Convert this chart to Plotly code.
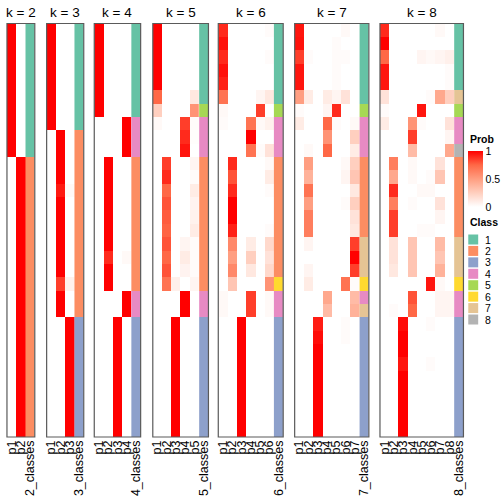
import plotly.graph_objects as go

# ---------------- data ----------------
ks = [2, 3, 4, 5, 6, 7, 8]
n_rows = 31

prob_k2 = [
    [1, 0], [1, 0], [1, 0], [1, 0], [1, 0], [1, 0], [1, 0], [1, 0], [1, 0], [1, 0],
    [0, 1], [0, 1], [0, 1], [0, 1], [0, 1], [0, 1], [0, 1], [0, 1], [0, 1], [0, 1],
    [0, 1], [0, 1], [0, 1], [0, 1], [0, 1], [0, 1], [0, 1], [0, 1], [0, 1], [0, 1], [0, 1],
]
class_k2 = [1, 1, 1, 1, 1, 1, 1, 1, 1, 1,
            2, 2, 2, 2, 2, 2, 2, 2, 2, 2, 2, 2, 2, 2, 2, 2, 2, 2, 2, 2, 2]

prob_k3 = [
    [1, 0, 0], [1, 0, 0], [1, 0, 0], [1, 0, 0], [1, 0, 0], [1, 0, 0], [1, 0, 0], [1, 0, 0],
    [0, 1, 0], [0, 1, 0], [0, 1, 0], [0, 1, 0], [0, 0.94, 0.03], [0, 1, 0], [0, 1, 0],
    [0, 1, 0], [0, 1, 0], [0, 1, 0], [0, 1, 0], [0, 0.85, 0.07], [0, 1, 0], [0, 1, 0],
    [0, 0, 1], [0, 0, 1], [0, 0, 1], [0, 0, 1], [0, 0, 1], [0, 0, 1], [0, 0, 1], [0, 0, 1], [0, 0, 1],
]
class_k3 = [1, 1, 1, 1, 1, 1, 1, 1,
            2, 2, 2, 2, 2, 2, 2, 2, 2, 2, 2, 2, 2, 2,
            3, 3, 3, 3, 3, 3, 3, 3, 3]

prob_k4 = [
    [1, 0, 0, 0], [1, 0, 0, 0], [1, 0, 0, 0], [1, 0, 0, 0], [1, 0, 0, 0], [1, 0, 0, 0], [1, 0, 0, 0],
    [0, 0, 0, 1], [0, 0, 0, 1], [0, 0, 0, 1],
    [0, 1, 0, 0], [0, 1, 0, 0], [0, 1, 0, 0], [0, 1, 0, 0], [0, 1, 0, 0], [0, 1, 0, 0], [0, 1, 0, 0],
    [0, 0.9, 0, 0.03], [0, 1, 0, 0], [0, 1, 0, 0],
    [0, 0, 0, 1], [0, 0, 0, 1],
    [0, 0, 1, 0], [0, 0, 1, 0], [0, 0, 1, 0], [0, 0, 1, 0], [0, 0, 1, 0], [0, 0, 1, 0], [0, 0, 1, 0],
    [0, 0, 1, 0], [0, 0, 1, 0],
]
class_k4 = [1, 1, 1, 1, 1, 1, 1, 4, 4, 4,
            2, 2, 2, 2, 2, 2, 2, 2, 2, 2, 4, 4,
            3, 3, 3, 3, 3, 3, 3, 3, 3]

prob_k5 = [
    [1, 0, 0, 0, 0], [1, 0, 0, 0, 0], [1, 0, 0, 0, 0], [1, 0, 0, 0, 0], [1, 0, 0, 0, 0],
    [0.75, 0, 0, 0, 0.12], [0.25, 0, 0, 0, 0.55], [0.03, 0, 0, 0.85, 0.02],
    [0, 0, 0, 0.9, 0.01], [0, 0, 0, 0.95, 0],
    [0, 0.85, 0, 0, 0.05], [0, 0.9, 0, 0, 0.02], [0, 0.75, 0, 0, 0.1], [0, 0.8, 0, 0, 0.06],
    [0, 0.78, 0, 0, 0.07], [0, 0.76, 0, 0, 0.1], [0, 0.8, 0, 0.05, 0.02], [0, 0.75, 0, 0.1, 0.02],
    [0, 0.8, 0, 0.06, 0.02], [0, 0.7, 0.08, 0, 0.05],
    [0, 0, 0, 1, 0], [0, 0, 0, 1, 0],
    [0, 0, 1, 0, 0], [0, 0, 1, 0, 0], [0, 0, 1, 0, 0], [0, 0, 1, 0, 0], [0, 0, 1, 0, 0],
    [0, 0, 1, 0, 0], [0, 0, 1, 0, 0], [0, 0, 1, 0, 0], [0, 0, 1, 0, 0],
]
class_k5 = [1, 1, 1, 1, 1, 1, 5, 4, 4, 4,
            2, 2, 2, 2, 2, 2, 2, 2, 2, 2, 4, 4,
            3, 3, 3, 3, 3, 3, 3, 3, 3]

prob_k6 = [
    [0.9, 0, 0, 0, 0, 0.02], [0.96, 0, 0, 0, 0, 0], [0.9, 0, 0, 0, 0, 0.02], [0.96, 0, 0, 0, 0, 0],
    [0.92, 0, 0, 0, 0, 0], [0.7, 0, 0, 0, 0.05, 0.12], [0.03, 0, 0, 0, 0.85, 0],
    [0.02, 0, 0, 0.7, 0.03, 0.07], [0, 0, 0, 1, 0, 0], [0, 0, 0, 0.7, 0.02, 0.15],
    [0, 0.9, 0, 0, 0, 0.03], [0, 0.8, 0, 0, 0, 0.1], [0, 0.9, 0, 0, 0, 0.02], [0, 1, 0, 0, 0, 0],
    [0, 1, 0, 0, 0, 0], [0, 0.92, 0, 0, 0, 0.02], [0, 0.6, 0, 0.1, 0, 0.2], [0, 0.5, 0, 0.25, 0, 0.15],
    [0, 0.6, 0, 0.12, 0, 0.2], [0, 0.3, 0, 0, 0, 0.55],
    [0.03, 0, 0, 0.85, 0, 0.03], [0.03, 0, 0, 0.85, 0, 0.03],
    [0, 0, 1, 0, 0, 0], [0, 0, 1, 0, 0, 0], [0, 0, 1, 0, 0, 0], [0, 0, 1, 0, 0, 0], [0, 0, 1, 0, 0, 0],
    [0, 0, 1, 0, 0, 0], [0, 0, 1, 0, 0, 0], [0, 0, 1, 0, 0, 0], [0, 0, 1, 0, 0, 0],
]
class_k6 = [1, 1, 1, 1, 1, 1, 5, 4, 4, 4,
            2, 2, 2, 2, 2, 2, 2, 2, 2, 6, 4, 4,
            3, 3, 3, 3, 3, 3, 3, 3, 3]

prob_k7 = [
    [0.95, 0, 0, 0, 0, 0.03, 0], [0.96, 0, 0, 0, 0.02, 0, 0], [0.85, 0.02, 0, 0, 0.02, 0.02, 0],
    [0.95, 0, 0, 0, 0.02, 0, 0], [0.95, 0, 0, 0, 0.02, 0, 0],
    [0.5, 0.1, 0, 0.1, 0.05, 0.15, 0], [0.02, 0, 0, 0.05, 0.9, 0, 0],
    [0.1, 0, 0, 0.75, 0.02, 0, 0.03], [0, 0, 0, 0.55, 0, 0, 0.25], [0, 0.03, 0, 0.75, 0, 0, 0.1],
    [0, 0.5, 0, 0, 0, 0.03, 0.25], [0, 0.4, 0, 0, 0, 0.05, 0.3], [0, 0.7, 0, 0, 0, 0, 0.12],
    [0, 0.5, 0, 0, 0, 0.02, 0.25], [0, 0.65, 0, 0, 0, 0, 0.15], [0, 0.65, 0, 0, 0, 0, 0.12],
    [0, 0.05, 0, 0, 0, 0, 0.85], [0, 0, 0, 0, 0, 0, 1], [0, 0.05, 0, 0, 0, 0, 0.85],
    [0, 0.1, 0, 0, 0, 0.7, 0.02], [0, 0, 0, 0.45, 0, 0, 0.35], [0, 0, 0, 0.35, 0, 0, 0.4],
    [0, 0, 0.93, 0, 0, 0.02, 0], [0, 0, 0.97, 0, 0, 0.02, 0], [0, 0, 1, 0, 0, 0, 0], [0, 0, 1, 0, 0, 0, 0],
    [0, 0, 1, 0, 0, 0, 0], [0, 0, 1, 0, 0, 0, 0], [0, 0, 1, 0, 0, 0, 0], [0, 0, 1, 0, 0, 0, 0],
    [0, 0, 1, 0, 0, 0, 0],
]
class_k7 = [1, 1, 1, 1, 1, 1, 5, 4, 4, 4,
            2, 2, 2, 2, 2, 2, 7, 7, 7, 6, 4, 7,
            3, 3, 3, 3, 3, 3, 3, 3, 3]

prob_k8 = [
    [0.9, 0, 0, 0, 0, 0, 0.03, 0], [1, 0, 0, 0, 0, 0, 0, 0], [0.75, 0, 0, 0, 0.05, 0.03, 0.05, 0.08],
    [0.95, 0, 0, 0, 0, 0, 0, 0.02], [0.95, 0, 0, 0, 0, 0, 0, 0.02],
    [0.15, 0, 0, 0, 0, 0.02, 0.45, 0.25], [0.02, 0, 0, 0, 0.95, 0, 0, 0],
    [0.1, 0, 0, 0.55, 0.02, 0, 0, 0.15], [0, 0, 0, 0.85, 0, 0, 0, 0.05], [0, 0, 0, 0.35, 0, 0, 0, 0.45],
    [0, 0.65, 0, 0.03, 0, 0, 0.15, 0], [0, 0.45, 0, 0.03, 0, 0.02, 0.3, 0], [0, 0.9, 0, 0, 0.03, 0.03, 0, 0],
    [0, 0.65, 0, 0.02, 0, 0, 0.15, 0], [0, 0.85, 0, 0, 0, 0, 0.05, 0], [0, 0.85, 0, 0, 0.02, 0.02, 0, 0],
    [0, 0.15, 0, 0.3, 0, 0, 0.35, 0], [0, 0.15, 0, 0.3, 0, 0, 0.3, 0], [0, 0.12, 0, 0.3, 0, 0, 0.4, 0],
    [0, 0, 0, 0, 0, 0.95, 0.03, 0], [0, 0, 0, 0.8, 0, 0, 0.05, 0.05], [0, 0.02, 0, 0.75, 0, 0, 0.05, 0.05],
    [0, 0, 0.97, 0, 0, 0.02, 0, 0], [0, 0, 1, 0, 0, 0, 0, 0], [0, 0, 1, 0, 0, 0, 0, 0],
    [0, 0, 0.95, 0, 0, 0.02, 0, 0], [0, 0, 1, 0, 0, 0, 0, 0], [0, 0, 1, 0, 0, 0, 0, 0],
    [0, 0, 1, 0, 0, 0, 0, 0], [0, 0, 1, 0, 0, 0, 0, 0], [0, 0, 1, 0, 0, 0, 0, 0],
]
class_k8 = [1, 1, 1, 1, 1, 7, 5, 4, 4, 8,
            2, 2, 2, 2, 2, 2, 7, 7, 7, 6, 4, 4,
            3, 3, 3, 3, 3, 3, 3, 3, 3]

prob_data = {2: prob_k2, 3: prob_k3, 4: prob_k4, 5: prob_k5, 6: prob_k6, 7: prob_k7, 8: prob_k8}
class_data = {2: class_k2, 3: class_k3, 4: class_k4, 5: class_k5, 6: class_k6, 7: class_k7, 8: class_k8}

class_labels = ["1", "2", "3", "4", "5", "6", "7", "8"]
class_colors = ["#66C2A5", "#FC8D62", "#8DA0CB", "#E78AC3", "#A6D854", "#FFD92F", "#E5C494", "#B3B3B3"]
prob_ticks = [0, 0.5, 1]

# ---------------- layout constants ----------------
W = H = 504
TOP, BOT = 23.5, 437.0
CW = 9.35
LEFTS = [5, 45, 93, 152, 218, 295, 381]
FONT = "Liberation Sans, Arial, Helvetica, sans-serif"

prob_scale = [[0, "#FFFFFF"], [0.25, "#FFCFBF"], [0.5, "#FF9E81"], [0.75, "#FF6846"], [1, "#FF0000"]]
class_scale = []
for i, c in enumerate(class_colors):
    class_scale += [[i / 8, c], [(i + 1) / 8, c]]

fig = go.Figure()
layout = dict(
    width=W, height=H, autosize=False,
    margin=dict(l=0, r=0, t=0, b=0),
    paper_bgcolor="white", plot_bgcolor="white",
    font=dict(family=FONT, color="black"),
    showlegend=False,
)
layout["yaxis"] = dict(domain=[1 - BOT / H, 1 - TOP / H], range=[n_rows - 0.5, -0.5],
                       visible=False, anchor="x", fixedrange=True)

shapes = []
annotations = []
rows = list(range(n_rows))
for idx, k in enumerate(ks):
    sfx = "" if idx == 0 else str(idx + 1)
    xa = "x" + sfx
    probs = prob_data[k]
    cls = class_data[k]
    fig.add_trace(go.Heatmap(
        z=probs, x=list(range(k)), y=rows, colorscale=prob_scale, zmin=0, zmax=1,
        showscale=(k == 8), xaxis=xa, yaxis="y", hoverinfo="skip",
        colorbar=dict(
            x=470 / W, xanchor="left", y=1 - 151 / H, yanchor="top",
            len=56, lenmode="pixels", thickness=15, thicknessmode="pixels",
            xpad=0, ypad=0, outlinewidth=0, ticks="",
            tickvals=prob_ticks, ticktext=[str(v) for v in prob_ticks],
            tickfont=dict(size=10.5, family=FONT),
        ),
    ))
    fig.add_trace(go.Heatmap(
        z=[[c] for c in cls], x=[k], y=rows, colorscale=class_scale, zmin=0.5, zmax=8.5,
        showscale=False, xaxis=xa, yaxis="y", hoverinfo="skip",
    ))
    x0 = LEFTS[idx] / W
    x1 = (LEFTS[idx] + (k + 1) * CW) / W
    layout["xaxis" + sfx] = dict(
        domain=[x0, x1], range=[-0.5, k + 0.5], anchor="y",
        tickmode="array", tickvals=list(range(k + 1)),
        ticktext=["p%d" % (j + 1) for j in range(k)] + ["%d_classes" % k],
        tickangle=-90, ticks="", showgrid=False, zeroline=False, showline=False,
        tickfont=dict(size=12.5, family=FONT), fixedrange=True,
    )
    shapes.append(dict(type="rect", xref=xa + " domain", yref="y domain",
                       x0=0, x1=1, y0=0, y1=1, line=dict(color="#5a5a5a", width=1.2),
                       fillcolor="rgba(0,0,0,0)", layer="above"))
    annotations.append(dict(text="k = %d" % k, x=(x0 + x1) / 2, y=1 - 12 / H,
                            xref="paper", yref="paper", showarrow=False,
                            xanchor="center", yanchor="middle",
                            font=dict(size=13.5, family=FONT)))

# legend titles
annotations.append(dict(text="<b>Prob</b>", x=470 / W, y=1 - 138.5 / H, xref="paper", yref="paper",
                        showarrow=False, xanchor="left", yanchor="middle", font=dict(size=10.5)))
annotations.append(dict(text="<b>Class</b>", x=470 / W, y=1 - 222 / H, xref="paper", yref="paper",
                        showarrow=False, xanchor="left", yanchor="middle", font=dict(size=10.5)))
# class legend keys
for i, (lab, col) in enumerate(zip(class_labels, class_colors)):
    cy = 239.5 + i * 11.43
    shapes.append(dict(type="rect", xref="paper", yref="paper",
                       x0=470 / W, x1=480 / W, y0=1 - (cy + 5) / H, y1=1 - (cy - 5) / H,
                       line=dict(width=0), fillcolor=col))
    annotations.append(dict(text=lab, x=485 / W, y=1 - cy / H, xref="paper", yref="paper",
                            showarrow=False, xanchor="left", yanchor="middle", font=dict(size=10.5)))

layout["shapes"] = shapes
layout["annotations"] = annotations
fig.update_layout(**layout)
fig.write_html("out.html", config={"displayModeBar": False},
               post_script="document.body.style.margin='0';document.body.style.padding='0';")
